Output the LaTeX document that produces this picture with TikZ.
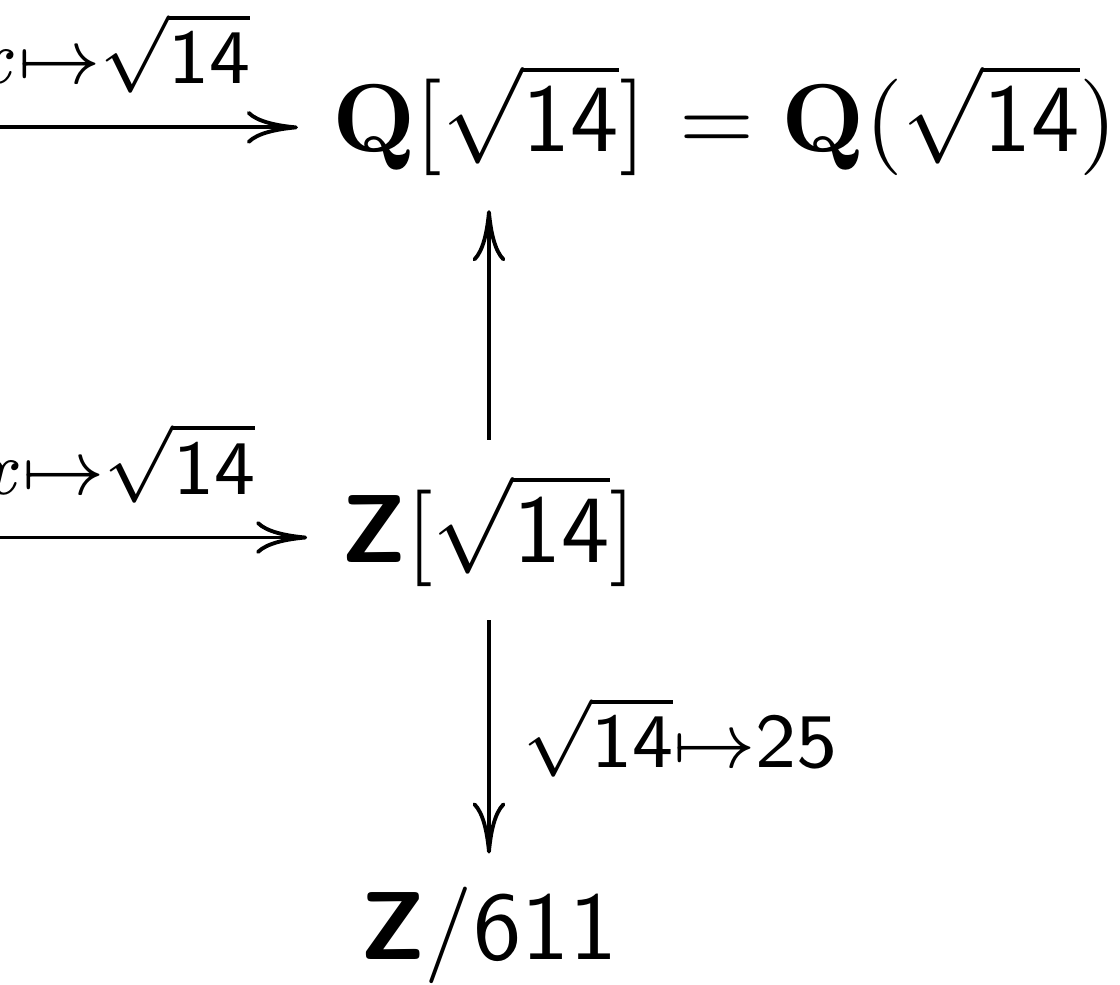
\documentclass[tikz,border=0pt]{standalone}
\usepackage{amsmath,amssymb}
\usetikzlibrary{positioning,arrows.meta,calc}

\newcommand{\ringQ}{\mathbf{Q}}
\newcommand{\ringZ}{\textsf{\bfseries Z}}
\newcommand{\rtf}{\sqrt{\mathsf{14}}}

\begin{document}
\begin{tikzpicture}[
  ring/.style={inner sep=3.33pt, anchor=base},
  lbl/.style={font=\footnotesize, inner sep=3.33pt},
  cdarr/.style={line width=0.4pt, -{Computer Modern Rightarrow[length=5.3pt, width=3.4pt]}}
]
\useasboundingbox (-50.67pt,0pt) rectangle (65.39pt,-102.07pt);

% column of rings
\node[ring] (Qs) at (0pt,-15.75pt) {$\ringQ[\rtf]$};
\node[anchor=base west, inner sep=0pt, xshift=-0.2pt] (Qf) at (Qs.base east) {$=\ringQ(\rtf)$};
\node[ring] (Zs) at (0pt,-58.24pt) {$\ringZ[\rtf]$};
\node[ring] (Zb) at (0pt,-99.48pt) {$\ringZ/\mathsf{611}$};

% arrows coming in from the left
\coordinate (inQ) at (-58.5pt,-13.2pt);
\coordinate (inZ) at (-58.5pt,-55.7pt);
\draw[cdarr] (inQ) -- (inQ -| Qs.west) node[lbl, midway, above] {$x{\mapsto}\rtf$};
\draw[cdarr] (inZ) -- (inZ -| Zs.west) node[lbl, midway, above] {$x{\mapsto}\rtf$};

% vertical maps
\draw[cdarr] (Zs) -- (Qs);
\draw[cdarr] (Zs) -- (Zb) node[lbl, midway, right] {$\rtf{\mapsto}\mathsf{25}$};
\end{tikzpicture}
\end{document}
